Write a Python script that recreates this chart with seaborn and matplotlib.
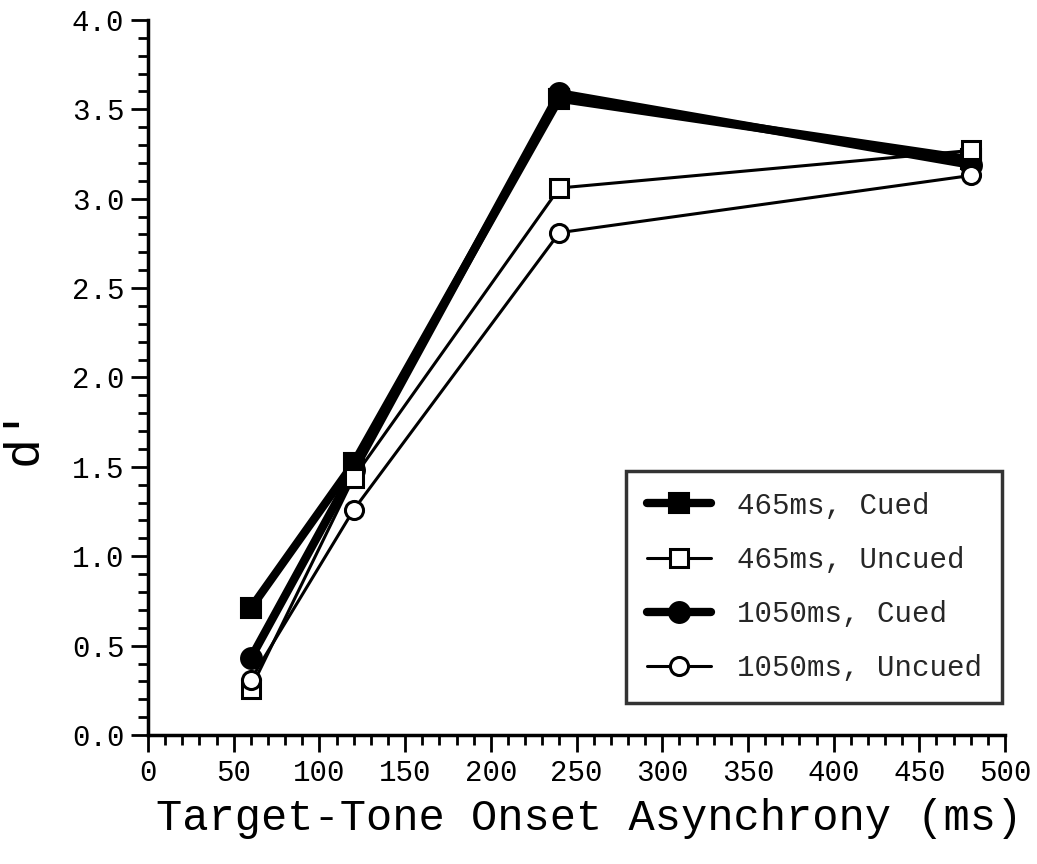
import matplotlib
matplotlib.use("Agg")
import matplotlib.pyplot as plt
from matplotlib.ticker import MultipleLocator, FormatStrFormatter
import numpy as np
import pandas as pd
import seaborn as sns

# Target-tone onset asynchrony (ms)
soa = [60, 120, 240, 480]

# d' for each condition
cued_465 = [0.71, 1.52, 3.56, 3.22]
uncued_465 = [0.26, 1.44, 3.06, 3.27]
cued_1050 = [0.43, 1.48, 3.59, 3.19]
uncued_1050 = [0.31, 1.26, 2.81, 3.13]

labels = ["465ms, Cued", "465ms, Uncued", "1050ms, Cued", "1050ms, Uncued"]
series = [cued_465, uncued_465, cued_1050, uncued_1050]

df = pd.DataFrame({
    "soa": soa * len(series),
    "dprime": [v for s in series for v in s],
    "condition": [lab for lab, s in zip(labels, series) for _ in s],
})

sns.set_theme(style="ticks")
plt.rcParams["font.family"] = ["Liberation Mono", "DejaVu Sans Mono"]

fig = plt.figure(figsize=(10.37, 8.64), dpi=100)
ax = fig.add_axes([0.1427, 0.1493, 0.8265, 0.8276])

styles = {
    "465ms, Cued": dict(marker="s", markersize=15, markerfacecolor="black", markeredgewidth=1.5, linewidth=6.0, zorder=3),
    "465ms, Uncued": dict(marker="s", markersize=13, markerfacecolor="white", markeredgewidth=2.2, linewidth=2.2, zorder=5),
    "1050ms, Cued": dict(marker="o", markersize=15, markerfacecolor="black", markeredgewidth=1.5, linewidth=6.0, zorder=4),
    "1050ms, Uncued": dict(marker="o", markersize=13, markerfacecolor="white", markeredgewidth=2.2, linewidth=2.2, zorder=6),
}

for lab in labels:
    sub = df[df["condition"] == lab]
    sns.lineplot(data=sub, x="soa", y="dprime", ax=ax, color="black",
                 markeredgecolor="black", label=lab, solid_joinstyle="round",
                 **styles[lab])

ax.set_xlim(0, 500)
ax.set_ylim(0, 4.0)
ax.xaxis.set_major_locator(MultipleLocator(50))
ax.xaxis.set_minor_locator(MultipleLocator(10))
ax.yaxis.set_major_locator(MultipleLocator(0.5))
ax.yaxis.set_minor_locator(MultipleLocator(0.1))
ax.yaxis.set_major_formatter(FormatStrFormatter("%.1f"))

ax.tick_params(which="major", direction="out", length=12, width=2, labelsize=21,
               colors="black", pad=5)
ax.tick_params(which="minor", direction="out", length=7, width=2, colors="black")

sns.despine(ax=ax)
for side in ("left", "bottom"):
    ax.spines[side].set_linewidth(2.5)
    ax.spines[side].set_color("black")

ax.set_xlabel("Target-Tone Onset Asynchrony (ms)", fontsize=31.5, color="black")
ax.xaxis.set_label_coords(0.515, -0.088)
ax.set_ylabel("d'", fontsize=36, color="black")
ax.yaxis.set_label_coords(-0.118, 0.42)

leg = ax.legend(loc="lower right", bbox_to_anchor=(0.997, 0.045), fontsize=21,
                frameon=True, fancybox=False, edgecolor="black",
                handlelength=2.2, handletextpad=0.9, labelspacing=0.9,
                borderpad=0.7, borderaxespad=0.0)
leg.get_frame().set_linewidth(2.5)

fig.savefig("out.png", dpi=100, facecolor="white")
